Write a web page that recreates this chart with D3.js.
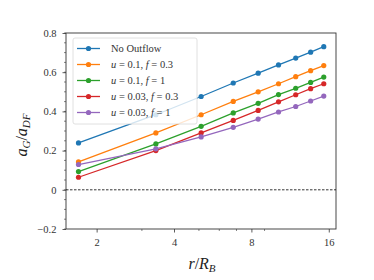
<!DOCTYPE html>
<html>
<head>
<meta charset="utf-8">
<script src="https://cdn.jsdelivr.net/npm/d3@7"></script>
<style>
  body { margin: 0; background: #fff; }
  svg { font-family: 'Liberation Serif', 'DejaVu Serif', serif; }
</style>
</head>
<body>
<svg width="374" height="280"></svg>
<script>
const radii = [1.7, 3.4, 5.1, 6.8, 8.5, 10.2, 11.9, 13.6, 15.3]
const noOutflow = [0.239, 0.383, 0.476, 0.545, 0.595, 0.637, 0.672, 0.702, 0.730]
const u01f03 = [0.142, 0.290, 0.383, 0.451, 0.500, 0.541, 0.577, 0.608, 0.634]
const u01f1 = [0.093, 0.234, 0.324, 0.392, 0.441, 0.486, 0.518, 0.548, 0.575]
const u003f03 = [0.064, 0.200, 0.290, 0.354, 0.405, 0.449, 0.485, 0.516, 0.541]
const u003f1 = [0.129, 0.209, 0.270, 0.319, 0.361, 0.397, 0.425, 0.453, 0.478]
const xTicks = [2, 4, 8, 16]
const xMinor = [3, 5, 6, 7, 9]
const yTicks = [-0.2, 0, 0.2, 0.4, 0.6, 0.8]

const series = [
  { label: [['No Outflow', false]], values: noOutflow, color: '#1f77b4' },
  { label: [['u', true], ['\u00a0=\u00a00.1, ', false], ['f', true], ['\u00a0=\u00a00.3', false]], values: u01f03, color: '#ff7f0e' },
  { label: [['u', true], ['\u00a0=\u00a00.1, ', false], ['f', true], ['\u00a0=\u00a01', false]], values: u01f1, color: '#2ca02c' },
  { label: [['u', true], ['\u00a0=\u00a00.03, ', false], ['f', true], ['\u00a0=\u00a00.3', false]], values: u003f03, color: '#d62728' },
  { label: [['u', true], ['\u00a0=\u00a00.03, ', false], ['f', true], ['\u00a0=\u00a01', false]], values: u003f1, color: '#9467bd' }
]

const svg = d3.select('svg')
const margin = { left: 66, right: 38, top: 33, bottom: 51 }
const width = 374, height = 280

const x = d3.scaleLog().base(2)
  .domain([1.52, 17.07])
  .range([margin.left, width - margin.right])
const y = d3.scaleLinear()
  .domain([-0.2, 0.8])
  .range([height - margin.bottom, margin.top])

// axes
const xAxis = svg.append('g')
  .attr('transform', `translate(0,${height - margin.bottom})`)
  .call(d3.axisBottom(x).tickValues(xTicks).tickFormat(d3.format('d')).tickSize(3.5).tickPadding(6))
xAxis.append('g').selectAll('line')
  .data(xMinor).join('line')
  .attr('x1', d => x(d)).attr('x2', d => x(d))
  .attr('y1', 0).attr('y2', 2)
  .attr('stroke', '#333').attr('stroke-width', 0.6)

const yAxis = svg.append('g')
  .attr('transform', `translate(${margin.left},0)`)
  .call(d3.axisLeft(y).tickValues(yTicks).tickFormat(d => d === 0 ? '0' : d3.format('.1f')(d)).tickSize(3.5).tickPadding(6))
yAxis.append('g').selectAll('line')
  .data(d3.range(-0.2, 0.801, 0.05)).join('line')
  .attr('x1', 0).attr('x2', -2)
  .attr('y1', d => y(d)).attr('y2', d => y(d))
  .attr('stroke', '#333').attr('stroke-width', 0.6)

svg.selectAll('.domain').remove()
svg.selectAll('.tick line').attr('stroke', '#333').attr('stroke-width', 0.8)
svg.selectAll('.tick text').attr('font-size', '10.5px').attr('fill', '#333')
  .attr('font-family', "'Liberation Serif', 'DejaVu Serif', serif")

// frame
svg.append('rect')
  .attr('x', margin.left).attr('y', margin.top)
  .attr('width', width - margin.left - margin.right)
  .attr('height', height - margin.top - margin.bottom)
  .attr('fill', 'none').attr('stroke', '#333').attr('stroke-width', 0.9)

// zero line
svg.append('line')
  .attr('x1', margin.left).attr('x2', width - margin.right)
  .attr('y1', y(0)).attr('y2', y(0))
  .attr('stroke', '#000').attr('stroke-width', 0.8)
  .attr('stroke-dasharray', '2.5,1.5')

// series
const line = d3.line().x((d, i) => x(radii[i])).y(d => y(d))
series.forEach(s => {
  svg.append('path')
    .attr('d', line(s.values))
    .attr('fill', 'none').attr('stroke', s.color).attr('stroke-width', 1.3)
  svg.append('g').selectAll('circle')
    .data(s.values).join('circle')
    .attr('cx', (d, i) => x(radii[i])).attr('cy', d => y(d))
    .attr('r', 2.6).attr('fill', s.color)
})

// legend
const lg = svg.append('g').attr('transform', 'translate(73,38)')
lg.append('rect')
  .attr('width', 124).attr('height', 86).attr('rx', 2)
  .attr('fill', 'rgba(255,255,255,0.8)').attr('stroke', '#d8d8d8').attr('stroke-width', 0.8)
series.forEach((s, i) => {
  const row = lg.append('g').attr('transform', `translate(0,${10.5 + i * 16})`)
  row.append('line').attr('x1', 4).attr('x2', 27).attr('stroke', s.color).attr('stroke-width', 1.3)
  row.append('circle').attr('cx', 15.5).attr('r', 2.6).attr('fill', s.color)
  const t = row.append('text').attr('x', 38).attr('dy', '0.35em')
    .attr('font-size', '10.5px').attr('fill', '#333')
  s.label.forEach(([txt, it]) => {
    t.append('tspan').attr('font-style', it ? 'italic' : 'normal').text(txt)
  })
})

// axis labels
const xl = svg.append('text')
  .attr('x', 202).attr('y', 269)
  .attr('text-anchor', 'middle').attr('font-size', '16px').attr('fill', '#222')
xl.append('tspan').attr('font-style', 'italic').text('r')
xl.append('tspan').text('/')
xl.append('tspan').attr('font-style', 'italic').text('R')
xl.append('tspan').attr('font-style', 'italic').attr('font-size', '11px').attr('dy', 3).text('B')

const yl = svg.append('text')
  .attr('transform', `translate(27,135) rotate(-90)`)
  .attr('text-anchor', 'middle').attr('font-size', '16px').attr('fill', '#222')
yl.append('tspan').attr('font-style', 'italic').text('a')
yl.append('tspan').attr('font-style', 'italic').attr('font-size', '11px').attr('dy', 3).text('G')
yl.append('tspan').attr('dy', -3).text('/')
yl.append('tspan').attr('font-style', 'italic').text('a')
yl.append('tspan').attr('font-style', 'italic').attr('font-size', '11px').attr('dy', 3).text('DF')
</script>
</body>
</html>
